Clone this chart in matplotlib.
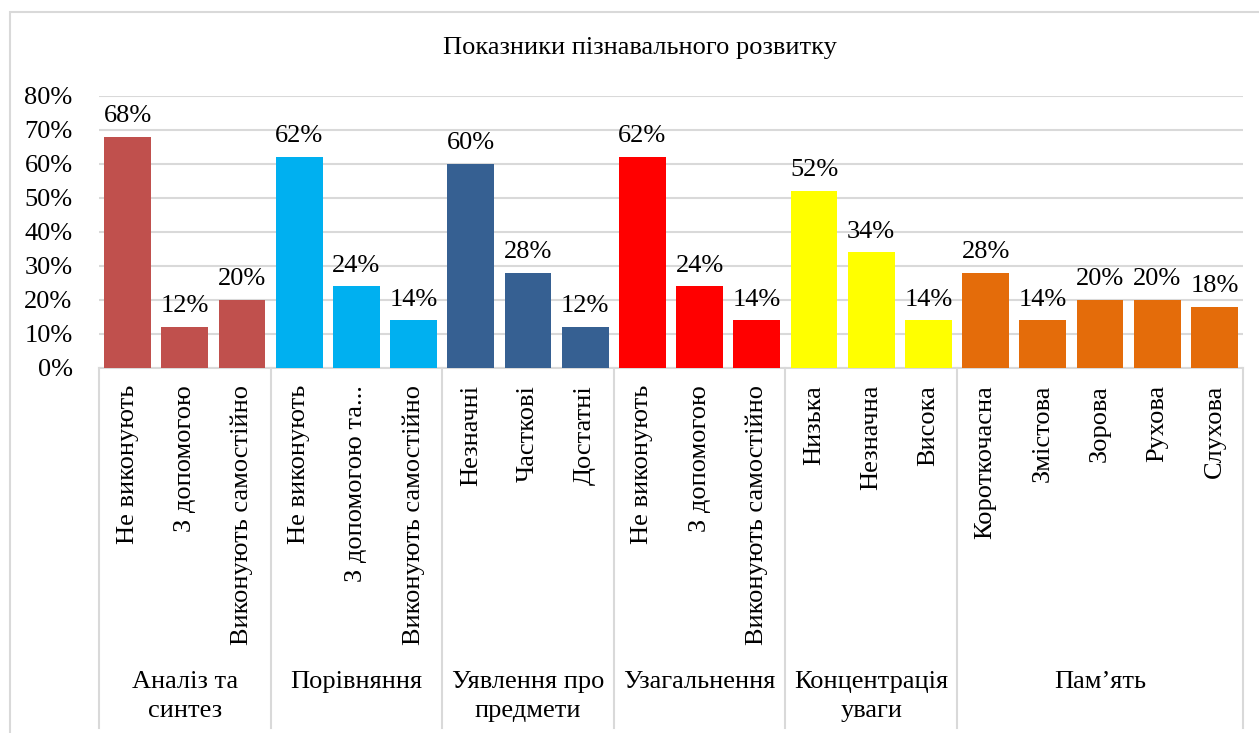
import matplotlib.pyplot as plt
import matplotlib.transforms as mtransforms
from matplotlib.patches import Rectangle

plt.rcParams['font.family'] = ['Liberation Serif', 'DejaVu Serif']

title = 'Показники пізнавального розвитку'
groups = ['Аналіз та\nсинтез', 'Порівняння', 'Уявлення про\nпредмети',
          'Узагальнення', 'Концентрація\nуваги', 'Пам’ять']
labels = [
    ['Не виконують', 'З допомогою', 'Виконують самостійно'],
    ['Не виконують', 'З допомогою та...', 'Виконують самостійно'],
    ['Незначні', 'Часткові', 'Достатні'],
    ['Не виконують', 'З допомогою', 'Виконують самостійно'],
    ['Низька', 'Незначна', 'Висока'],
    ['Короткочасна', 'Змістова', 'Зорова', 'Рухова', 'Слухова'],
]
values = [
    [0.68, 0.12, 0.20],
    [0.62, 0.24, 0.14],
    [0.60, 0.28, 0.12],
    [0.62, 0.24, 0.14],
    [0.52, 0.34, 0.14],
    [0.28, 0.14, 0.20, 0.20, 0.18],
]
colors = ['#C0504D', '#00B0F0', '#366092', '#FF0000', '#FFFF00', '#E46C0A']

FS = 19
W, H = 1259, 733
fig = plt.figure(figsize=(W / 100, H / 100), dpi=100)
# chart border: only top and left edges fall inside the picture
fig.patches.append(Rectangle((10 / W, -0.05), 1.1, 1.05 - 12 / H,
                             transform=fig.transFigure, fill=False,
                             edgecolor='#D9D9D9', linewidth=1.5))

x0, x1, y0, y1 = 99, 1243, 368, 96
ax = fig.add_axes([x0 / W, (H - y0) / H, (x1 - x0) / W, (y0 - y1) / H])

blend = mtransforms.blended_transform_factory(ax.transData, fig.transFigure)

pos = 0
bounds = [-0.5]
for g, (name, labs, vals, c) in enumerate(zip(groups, labels, values, colors)):
    xs = list(range(pos, pos + len(vals)))
    ax.bar(xs, vals, width=0.82, color=c, zorder=3)
    for x, v, lab in zip(xs, vals, labs):
        ax.annotate(f'{round(v * 100)}%', (x, v), xytext=(0, 7),
                    textcoords='offset points', ha='center', va='bottom',
                    fontsize=FS)
        ax.text(x, 1 - 385 / H, lab, rotation=90, ha='center', va='top',
                fontsize=FS, transform=blend)
    ax.text((xs[0] + xs[-1]) / 2, 1 - 671 / H, name, ha='center', va='top',
            fontsize=FS, linespacing=1.4, transform=blend)
    pos += len(vals)
    bounds.append(pos - 0.5)

for b in bounds:
    ax.plot([b, b], [1 - y0 / H, 1 - 728 / H], color='#D9D9D9', lw=1.5,
            transform=blend, clip_on=False, zorder=1)

ax.set_xlim(-0.5, pos - 0.5)
ax.set_ylim(0, 0.8)
ax.set_yticks([i / 10 for i in range(9)])
ax.set_yticklabels([f'{i * 10}%' for i in range(9)], fontsize=FS)
ax.tick_params(axis='y', length=0, pad=19)
ax.set_xticks([])
ax.grid(axis='y', color='#D9D9D9', lw=1.5, zorder=0)
for s in ['top', 'right', 'left']:
    ax.spines[s].set_visible(False)
ax.spines['bottom'].set_color('#D9D9D9')
ax.spines['bottom'].set_linewidth(1.5)

fig.text(640 / W, 1 - 48 / H, title, ha='center', va='center', fontsize=FS)

fig.savefig('out.png', dpi=100)
